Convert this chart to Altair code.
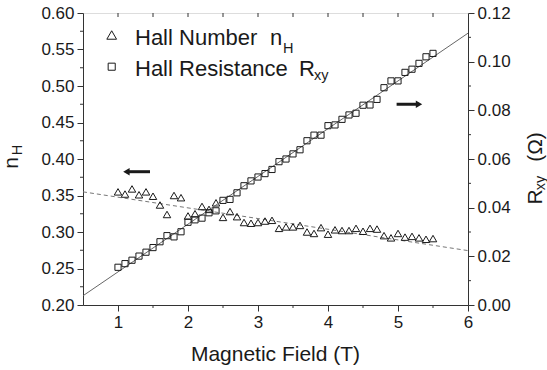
import altair as alt
import pandas as pd

# ---------------- data ----------------
field = [1.0, 1.1, 1.2, 1.3, 1.4, 1.5, 1.6, 1.7, 1.8, 1.9,
         2.0, 2.1, 2.2, 2.3, 2.4, 2.5, 2.6, 2.7, 2.8, 2.9,
         3.0, 3.1, 3.2, 3.3, 3.4, 3.5, 3.6, 3.7, 3.8, 3.9,
         4.0, 4.1, 4.2, 4.3, 4.4, 4.5, 4.6, 4.7, 4.8, 4.9,
         5.0, 5.1, 5.2, 5.3, 5.4, 5.5]
hall_number = [0.355, 0.352, 0.359, 0.351, 0.355, 0.349, 0.337, 0.324, 0.350, 0.347,
               0.322, 0.325, 0.335, 0.331, 0.340, 0.320, 0.328, 0.321, 0.313, 0.312,
               0.313, 0.315, 0.316, 0.305, 0.307, 0.307, 0.309, 0.300, 0.298, 0.306,
               0.297, 0.303, 0.302, 0.302, 0.305, 0.301, 0.305, 0.304, 0.295, 0.292,
               0.298, 0.293, 0.294, 0.292, 0.290, 0.291]
hall_resistance = [0.0155, 0.0170, 0.0184, 0.0201, 0.0217, 0.0236, 0.0260, 0.0285, 0.0280, 0.0301,
                   0.0340, 0.0350, 0.0357, 0.0379, 0.0387, 0.0430, 0.0434, 0.0461, 0.0490, 0.0510,
                   0.0526, 0.0540, 0.0557, 0.0589, 0.0600, 0.0621, 0.0638, 0.0675, 0.0698, 0.0698,
                   0.0737, 0.0740, 0.0763, 0.0781, 0.0788, 0.0821, 0.0822, 0.0845, 0.0893, 0.0921,
                   0.0921, 0.0956, 0.0969, 0.0993, 0.1020, 0.1034]
fit_field = [0.5, 6.0]
fit_number = [0.355, 0.2745]
fit_resistance = [0.0038, 0.1117]

# arrows (start, end of the shaft, level, head position, head shape)
arrow_x = [1.12, 5.30]
arrow_x2 = [1.457, 4.98]
arrow_level = [0.3826, 0.475]
arrow_head_shape = ["triangle-left", "triangle-right"]

x_ticks = [1, 2, 3, 4, 5, 6]
x_minor = [1.5, 2.5, 3.5, 4.5, 5.5]
x_top = [1.0, 1.5, 2.0, 2.5, 3.0, 3.5, 4.0, 4.5, 5.0, 5.5]
left_ticks = [0.20, 0.25, 0.30, 0.35, 0.40, 0.45, 0.50, 0.55, 0.60]
left_minor = [0.225, 0.275, 0.325, 0.375, 0.425, 0.475, 0.525, 0.575]
right_ticks = [0.00, 0.02, 0.04, 0.06, 0.08, 0.10, 0.12]
right_minor = [0.01, 0.03, 0.05, 0.07, 0.09, 0.11]

FONT = "Liberation Sans"
INK = "#1a1a1a"
AXC = "#333333"
W, H = 385, 292

df_n = pd.DataFrame({"x": field, "n": hall_number})
df_r = pd.DataFrame({"x": field, "r": hall_resistance})
df_fit_n = pd.DataFrame({"x": fit_field, "n": fit_number})
df_fit_r = pd.DataFrame({"x": fit_field, "r": fit_resistance})
df_arrow = pd.DataFrame({"x": arrow_x, "x2": arrow_x2, "n": arrow_level, "shape": arrow_head_shape})

X = alt.X("x:Q", scale=alt.Scale(domain=[0.5, 6], nice=False, zero=False),
          axis=alt.Axis(values=x_ticks, format="d", title=None, grid=False, tickSize=6,
                        labelFontSize=17, labelFont=FONT, labelColor=INK, labelPadding=3,
                        domainColor=AXC, tickColor=AXC, labelFlush=False))
YL = alt.Y("n:Q", scale=alt.Scale(domain=[0.2, 0.6], nice=False, zero=False),
           axis=alt.Axis(values=left_ticks, format=".2f", title=None, grid=False, tickSize=6,
                         labelFontSize=17, labelFont=FONT, labelColor=INK, labelPadding=3,
                         domainColor=AXC, tickColor=AXC, labelFlush=False))
YR = alt.Y("r:Q", scale=alt.Scale(domain=[0, 0.12], nice=False, zero=False),
           axis=alt.Axis(values=right_ticks, format=".2f", title=None, grid=False, tickSize=6,
                         orient="right", labelFontSize=17, labelFont=FONT, labelColor=INK,
                         labelPadding=3, domainColor=AXC, tickColor=AXC, labelFlush=False))

dashed = alt.Chart(df_fit_n).mark_line(color="#777777", strokeWidth=1, strokeDash=[4, 3]).encode(x=X, y=YL)
tri = alt.Chart(df_n).mark_point(shape="triangle-up", filled=False, size=56, color=INK,
                                 strokeWidth=1, opacity=1).encode(x=X, y=YL)
shaft = alt.Chart(df_arrow).mark_rule(color=INK, strokeWidth=3).encode(x=X, x2="x2:Q", y=YL)
heads = alt.Chart(df_arrow).mark_point(filled=True, size=55, color=INK, opacity=1).encode(
    x=X, y=YL, shape=alt.Shape("shape:N", scale=None, legend=None))
lminor = alt.Chart(pd.DataFrame({"n": left_minor})).mark_rule(color=AXC, strokeWidth=1).encode(
    y=YL, x=alt.value(-3), x2=alt.value(0))
topt = alt.Chart(pd.DataFrame({"x": x_top})).mark_rule(color=AXC, strokeWidth=1).encode(
    x=X, y=alt.value(0), y2=alt.value(4))
bminor = alt.Chart(pd.DataFrame({"x": x_minor})).mark_rule(color=AXC, strokeWidth=1).encode(
    x=X, y=alt.value(H), y2=alt.value(H + 3))

left = alt.layer(dashed, lminor, topt, bminor, shaft, heads, tri)

solid = alt.Chart(df_fit_r).mark_line(color="#666666", strokeWidth=1).encode(x=X, y=YR)
sq = alt.Chart(df_r).mark_point(shape="square", filled=False, size=38, color=INK,
                                strokeWidth=1, opacity=1).encode(x=X, y=YR)
rminor = alt.Chart(pd.DataFrame({"r": right_minor})).mark_rule(color=AXC, strokeWidth=1).encode(
    y=YR, x=alt.value(W), x2=alt.value(W + 3))

right = alt.layer(solid, rminor, sq)

# ---------------- texts (legend and axis titles) ----------------
def txt(t, px, py, size, angle=0, align="left", baseline="alphabetic"):
    kw = dict(font=FONT, fontSize=size, color=INK, align=align, baseline=baseline)
    if angle:
        kw["angle"] = angle
    return alt.Chart(pd.DataFrame({"t": [t]})).mark_text(**kw).encode(
        text="t:N", x=alt.value(px), y=alt.value(py))

legend_sym_tri = alt.Chart(pd.DataFrame({"s": ["triangle-up"]})).mark_point(
    shape="triangle-up", filled=False, size=95, color=INK, strokeWidth=1, opacity=1).encode(
    x=alt.value(28.7), y=alt.value(22))
legend_sym_sq = alt.Chart(pd.DataFrame({"s": ["square"]})).mark_point(
    shape="square", filled=False, size=50, color=INK, strokeWidth=1, opacity=1).encode(
    x=alt.value(28.7), y=alt.value(53.7))

texts = [
    txt("Hall Number", 52, 32, 22),
    txt("n", 187, 32, 22),
    txt("H", 200, 40, 14.5),
    txt("Hall Resistance", 52, 63, 22),
    txt("R", 216, 63, 22),
    txt("xy", 231, 67, 14.5),
    txt("Magnetic Field (T)", 192.5, 348, 21, align="center"),
    txt("n", -65, 150, 21, angle=270, align="center"),
    txt("H", -61, 137, 14.5, angle=270, align="center"),
    txt("R", 459, 184, 21, angle=270, align="center"),
    txt("xy", 462, 170, 14.5, angle=270, align="center"),
    txt("(\u03a9)", 459, 134, 21, angle=270, align="center"),
]

chart = alt.layer(left, right, legend_sym_tri, legend_sym_sq, *texts).resolve_scale(
    y="independent"
).properties(
    width=W, height=H,
    autosize=alt.AutoSizeParams(type="none"),
    padding={"left": 83, "top": 13, "right": 547 - 83 - W, "bottom": 370 - 13 - H},
).configure_view(stroke=AXC, strokeWidth=1).configure(background="white")

chart.save("out.html", embed_options={"renderer": "svg", "actions": False})
